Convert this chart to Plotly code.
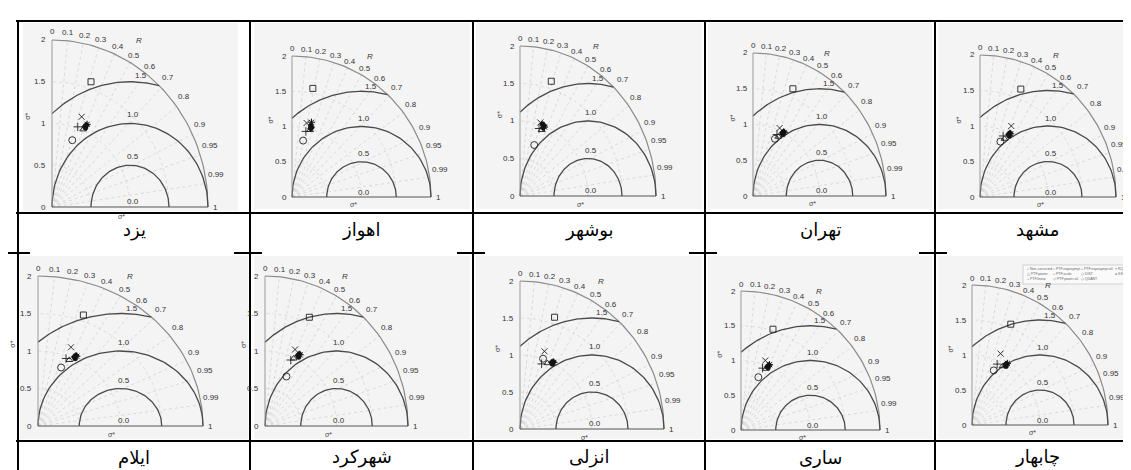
import numpy as np
import plotly.graph_objects as go

W, H = 1131, 470

# ---------------- data (sigma units) ----------------
stations = ["یزد", "اهواز", "بوشهر", "تهران", "مشهد",
            "ایلام", "شهرکرد", "انزلی", "ساری", "چابهار"]

noncorr_x = [0.26, 0.16, 0.21, 0.33, 0.30, 0.28, 0.30, 0.32, 0.25, 0.32]
noncorr_y = [0.80, 0.80, 0.68, 0.80, 0.78, 0.78, 0.66, 0.95, 0.76, 0.78]
plus_x = [0.33, 0.20, 0.28, 0.36, 0.34, 0.34, 0.36, 0.30, 0.31, 0.37]
plus_y = [0.96, 0.93, 0.90, 0.86, 0.86, 0.90, 0.88, 0.88, 0.89, 0.87]
cross_x = [0.38, 0.21, 0.30, 0.40, 0.46, 0.40, 0.42, 0.34, 0.35, 0.42]
cross_y = [1.08, 1.05, 0.98, 0.95, 1.00, 1.05, 1.02, 1.05, 1.00, 1.02]
square_x = [0.50, 0.30, 0.46, 0.60, 0.60, 0.55, 0.62, 0.48, 0.46, 0.57]
square_y = [1.50, 1.54, 1.53, 1.50, 1.52, 1.48, 1.45, 1.51, 1.45, 1.44]
tri_x = [0.40, 0.26, 0.32, 0.38, 0.36, 0.38, 0.40, 0.38, 0.36, 0.45]
tri_y = [0.93, 0.95, 0.88, 0.83, 0.82, 0.88, 0.90, 0.89, 0.88, 0.84]
dist_x = [0.42, 0.27, 0.34, 0.44, 0.42, 0.44, 0.46, 0.44, 0.38, 0.49]
dist_y = [0.96, 0.97, 0.91, 0.88, 0.88, 0.92, 0.94, 0.90, 0.91, 0.86]
quant_x = [0.44, 0.28, 0.35, 0.46, 0.44, 0.46, 0.48, 0.46, 0.40, 0.51]
quant_y = [0.98, 0.99, 0.94, 0.90, 0.90, 0.94, 0.96, 0.91, 0.93, 0.87]
rquant_x = [0.43, 0.27, 0.33, 0.45, 0.43, 0.45, 0.47, 0.45, 0.39, 0.50]
rquant_y = [0.95, 1.01, 0.96, 0.86, 0.86, 0.90, 0.92, 0.88, 0.90, 0.84]
ssplin_x = [0.45, 0.28, 0.36, 0.47, 0.45, 0.47, 0.49, 0.47, 0.41, 0.52]
ssplin_y = [0.99, 1.06, 0.92, 0.89, 0.89, 0.93, 0.95, 0.90, 0.94, 0.88]

r_ticks = [0, 0.1, 0.2, 0.3, 0.4, 0.5, 0.6, 0.7, 0.8, 0.9, 0.95, 0.99]
r_tick_text = ["0", "0.1", "0.2", "0.3", "0.4", "0.5", "0.6", "0.7", "0.8", "0.9", "0.95", "0.99"]
rms_levels = [0.5, 1.0, 1.5]
rms_text = ["0.0", "0.5", "1.0", "1.5"]
std_ticks = [0, 0.5, 1, 1.5, 2]
std_text = ["0", "0.5", "1", "1.5", "2"]

legend_entries = [["○ Non-corrected", "△ PTF.power", "+ PTF.linear"],
                  ["+ PTF.expasympt", "+ PTF.scale", "◇ PTF.power.x0"],
                  ["+ PTF.expasympt.x0", "◇ DIST", "◇ QUANT"],
                  ["> RQUANT", "● SSPLIN"]]

# ---------------- layout geometry (pixels) ----------------
# origin x, origin y, pixel x of sigma=2 on x axis, pixel y of sigma=2 on y axis
diag_px = [(44, 199, 200, 32), (284, 189, 423, 48), (512, 188, 648, 38),
           (745, 188, 878, 45), (972, 189, 1108, 47),
           (30, 418, 195, 268), (257, 418, 400, 268), (512, 421, 656, 273),
           (733, 422, 872, 283), (964, 417, 1100, 277)]
col_lines = [10, 242, 465, 697, 927]
label_cx = [(10 + 242) / 2, (242 + 465) / 2, (465 + 697) / 2, (697 + 927) / 2, (927 + 1131) / 2]
img_rects = [(15, 15, 230, 203), (246, 15, 462, 201), (468, 15, 694, 201),
             (700, 15, 924, 201), (930, 15, 1129, 201),
             (12, 248, 240, 431), (246, 248, 462, 431), (468, 248, 694, 431),
             (700, 248, 924, 431), (930, 248, 1129, 431)]

FONT = "Liberation Sans, Arial, sans-serif"
TXT = "#333333"
fig = go.Figure()
shapes = []
annotations = []
layout_axes = {}

XR = (-0.02, 2.03)
YR = (-0.02, 2.03)

for i, (ox, oy, x2, y2) in enumerate(diag_px):
    n = i + 1
    xa = "x" if n == 1 else f"x{n}"
    ya = "y" if n == 1 else f"y{n}"
    ux = (x2 - ox) / 2.0
    uy = (oy - y2) / 2.0
    dl = (ox + XR[0] * ux) / W
    dr = (ox + XR[1] * ux) / W
    db = 1 - (oy - YR[0] * uy) / H
    dt = 1 - (oy - YR[1] * uy) / H
    kx = "xaxis" if n == 1 else f"xaxis{n}"
    ky = "yaxis" if n == 1 else f"yaxis{n}"
    layout_axes[kx] = dict(domain=[dl, dr], range=list(XR), visible=False, anchor=ya, fixedrange=True)
    layout_axes[ky] = dict(domain=[db, dt], range=list(YR), visible=False, anchor=xa, fixedrange=True)

    def add_line(x, y, color, width, dash="solid"):
        fig.add_trace(go.Scatter(x=x, y=y, mode="lines", xaxis=xa, yaxis=ya,
                                 line=dict(color=color, width=width, dash=dash),
                                 hoverinfo="skip", showlegend=False))

    def add_text(x, y, text, xanchor="center", size=8, color=TXT, angle=0,
                 _ox=ox, _oy=oy, _ux=ux, _uy=uy):
        # convert sigma-space position into paper fraction (labels sit outside the axis range)
        px = (_ox + x * _ux) / W
        py = 1 - (_oy - y * _uy) / H
        annotations.append(dict(x=px, y=py, xref="paper", yref="paper", text=text, showarrow=False,
                                xanchor=xanchor, yanchor="middle", textangle=angle,
                                font=dict(family=FONT, size=size, color=color)))

    # image background
    r = img_rects[i]
    shapes.append(dict(type="rect", xref="paper", yref="paper", layer="below",
                       x0=r[0] / W, x1=r[2] / W, y0=1 - r[3] / H, y1=1 - r[1] / H,
                       fillcolor="#f4f4f4", line=dict(width=0)))

    # dotted correlation rays
    for R in r_ticks[1:]:
        th = np.arccos(R)
        add_line([0, 2 * np.cos(th)], [0, 2 * np.sin(th)], "#d2d2d2", 0.8, "dot")
    # dotted std arcs
    t = np.linspace(0, np.pi / 2, 60)
    for s in [0.5, 1.0, 1.5]:
        add_line(s * np.cos(t), s * np.sin(t), "#d6d6d6", 0.8, "dot")
    # outer arc
    add_line(2 * np.cos(t), 2 * np.sin(t), "#8a8a8a", 1.2)
    # RMS arcs centred on reference point (1,0)
    for lev in rms_levels:
        cmax = min(1.0, (4 - 1 - lev ** 2) / (2 * lev))
        cmin = max(-1.0, -1.0 / lev)
        ph = np.linspace(np.arccos(cmax), np.arccos(cmin), 80)
        add_line(1 + lev * np.cos(ph), lev * np.sin(ph), "#4a4a4a", 1.3)
    # axes
    add_line([0, 0], [0, 2], "#9a9a9a", 1.0)
    add_line([0, 2], [0, 0], "#555555", 1.2)

    # text labels
    for R, lab in zip(r_ticks, r_tick_text):
        th = np.arccos(R)
        if R < 0.7:
            add_text(2.1 * np.cos(th), 2.1 * np.sin(th), lab)
        else:
            add_text(2.03 * np.cos(th) - 0.03, 2.03 * np.sin(th) + 0.1, lab, xanchor="left")
    for v, lab in zip(std_ticks, std_text):
        add_text(-0.05, v, lab, xanchor="right")
    add_text(2.04, 0, "1", xanchor="left")
    rms_pos = [(1.04, 0.07), (1.04, 0.61), (1.04, 1.11), (1.14, 1.57)]
    for (a, b), lab in zip(rms_pos, rms_text):
        add_text(a, b, lab)
    add_text(1.12, 1.99, "<i>R</i>")
    add_text(0.89, -0.11, "σ*", size=7, color="#444444")
    add_text(-0.31, 1.09, "σ*", size=7, color="#444444", angle=-90)

    # data markers
    def add_pts(x, y, symbol, size, color="#222222", lw=0.9):
        fig.add_trace(go.Scatter(x=[x], y=[y], mode="markers", xaxis=xa, yaxis=ya,
                                 marker=dict(symbol=symbol, size=size, color=color,
                                             line=dict(color="#222222", width=lw)),
                                 cliponaxis=False, hoverinfo="skip", showlegend=False))
    add_pts(square_x[i], square_y[i], "square-open", 6)
    add_pts(noncorr_x[i], noncorr_y[i], "circle-open", 7)
    add_pts(plus_x[i], plus_y[i], "cross-thin", 6)
    add_pts(cross_x[i], cross_y[i], "x-thin", 6)
    add_pts(tri_x[i], tri_y[i], "triangle-up-open", 6)
    add_pts(dist_x[i], dist_y[i], "diamond", 5, "#111111", 0.5)
    add_pts(quant_x[i], quant_y[i], "diamond", 5, "#111111", 0.5)
    add_pts(rquant_x[i], rquant_y[i], "circle", 5, "#111111", 0.5)
    add_pts(ssplin_x[i], ssplin_y[i], "asterisk-open", 6, "#111111", 1.0)

# legend box in last diagram
shapes.append(dict(type="rect", xref="paper", yref="paper", x0=1015 / W, x1=1128 / W,
                   y0=1 - 276 / H, y1=1 - 257 / H, fillcolor="#fafafa", line=dict(color="#bbbbbb", width=0.6)))
leg_cols = [1017, 1043, 1071, 1105]
leg_rows = [261, 266, 271]
for c, col in enumerate(legend_entries):
    for rr, txt in enumerate(col):
        annotations.append(dict(x=leg_cols[c] / W, y=1 - leg_rows[rr] / H, xref="paper", yref="paper",
                                text=txt, showarrow=False, xanchor="left", yanchor="middle",
                                font=dict(family=FONT, size=3.5, color="#666666")))

# table lines
BL = dict(color="black", width=2)
for yy in [13, 205, 433]:
    shapes.append(dict(type="line", xref="paper", yref="paper", x0=8 / W, x1=1131 / W,
                       y0=1 - yy / H, y1=1 - yy / H, line=BL))
for xx in col_lines:
    shapes.append(dict(type="line", xref="paper", yref="paper", x0=xx / W, x1=xx / W,
                       y0=0, y1=1 - 13 / H, line=BL))
for xx in col_lines + [1131]:
    shapes.append(dict(type="line", xref="paper", yref="paper", x0=(xx - 16) / W, x1=min(xx + 12, 1131) / W,
                       y0=1 - 245 / H, y1=1 - 245 / H, line=BL))

# station labels
for i, name in enumerate(stations):
    row = i // 5
    col = i % 5
    yy = 222 if row == 0 else 449
    annotations.append(dict(x=label_cx[col] / W, y=1 - yy / H, xref="paper", yref="paper",
                            text=name, showarrow=False, xanchor="center", yanchor="middle",
                            font=dict(family="DejaVu Sans", size=18, color="black")))

fig.update_layout(width=W, height=H, autosize=False, margin=dict(l=0, r=0, t=0, b=0),
                  paper_bgcolor="white", plot_bgcolor="rgba(0,0,0,0)", showlegend=False,
                  shapes=shapes, annotations=annotations, **layout_axes)
fig.write_html("out.html")
